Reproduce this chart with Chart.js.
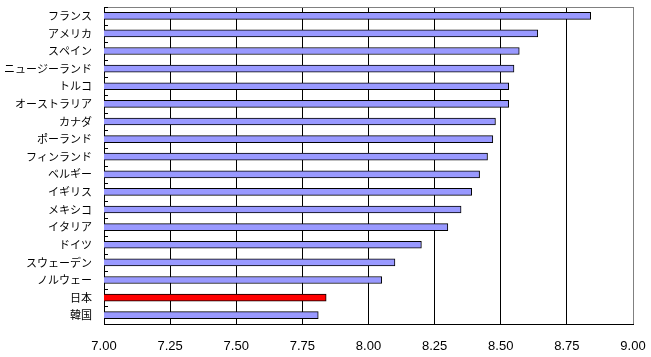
<!DOCTYPE html>
<html>
<head>
<meta charset="utf-8">
<script src="https://cdn.jsdelivr.net/npm/chart.js@4/dist/chart.umd.min.js"></script>
<style>
html,body{margin:0;padding:0;background:#fff;}
#wrap{width:651px;height:357px;position:relative;}
</style>
</head>
<body>
<div id="wrap"><canvas id="c" width="651" height="357"></canvas></div>
<script>
const categories = ["フランス","アメリカ","スペイン","ニュージーランド","トルコ","オーストラリア","カナダ","ポーランド","フィンランド","ベルギー","イギリス","メキシコ","イタリア","ドイツ","スウェーデン","ノルウェー","日本","韓国"];
const values = [8.84,8.64,8.57,8.55,8.53,8.53,8.48,8.47,8.45,8.42,8.39,8.35,8.30,8.20,8.10,8.05,7.84,7.81];
const highlight = "日本";
const xMin = 7.00, xMax = 9.00, xStep = 0.25;

const barColors = categories.map(c => c === highlight ? '#FF0000' : '#9999FF');

const framePlugin = {
  id: 'frame',
  afterDatasetsDraw(chart) {
    const {ctx, chartArea: a, scales: {y}} = chart;
    ctx.save();
    ctx.strokeStyle = '#808080';
    ctx.lineWidth = 1;
    ctx.beginPath();
    ctx.moveTo(a.left, a.top + 0.5);
    ctx.lineTo(a.right + 0.5, a.top + 0.5);
    ctx.stroke();
    ctx.strokeStyle = '#000';
    ctx.beginPath();
    for (let i = 0; i <= categories.length; i++) {
      const py = Math.round(y.getPixelForValue(i - 0.5)) + 0.5;
      ctx.moveTo(a.left, py);
      ctx.lineTo(a.left + 4, py);
    }
    ctx.stroke();
    ctx.restore();
  }
};

new Chart(document.getElementById('c'), {
  type: 'bar',
  data: {
    labels: categories,
    datasets: [{
      data: values,
      backgroundColor: barColors,
      borderColor: '#000',
      borderWidth: 1,
      borderSkipped: false,
      barThickness: 7
    }]
  },
  options: {
    indexAxis: 'y',
    responsive: false,
    animation: false,
    devicePixelRatio: 1,
    layout: {padding: {top: 7, right: 18, left: 0, bottom: 0}},
    plugins: {legend: {display: false}, tooltip: {enabled: false}},
    scales: {
      x: {
        min: xMin, max: xMax,
        afterFit(s) { s.height = 33; s.paddingLeft = 0; s.paddingRight = 0; },
        ticks: {
          stepSize: xStep,
          padding: 15,
          color: '#000',
          font: {family: 'Liberation Sans', size: 13},
          callback: v => Number(v).toFixed(2)
        },
        grid: {
          color: ctx => (ctx.tick && Math.abs(ctx.tick.value - xMax) < 1e-9) ? '#808080' : '#000',
          lineWidth: 1,
          drawTicks: false
        },
        border: {color: '#000', width: 1}
      },
      y: {
        afterFit(s) { s.width = 104; s.paddingTop = 0; s.paddingBottom = 0; },
        ticks: {
          padding: 12,
          color: '#000',
          font: {family: 'Noto Sans CJK JP', size: 11}
        },
        grid: {drawOnChartArea: false, drawTicks: false},
        border: {color: '#000', width: 1}
      }
    }
  },
  plugins: [framePlugin]
});
</script>
</body>
</html>
